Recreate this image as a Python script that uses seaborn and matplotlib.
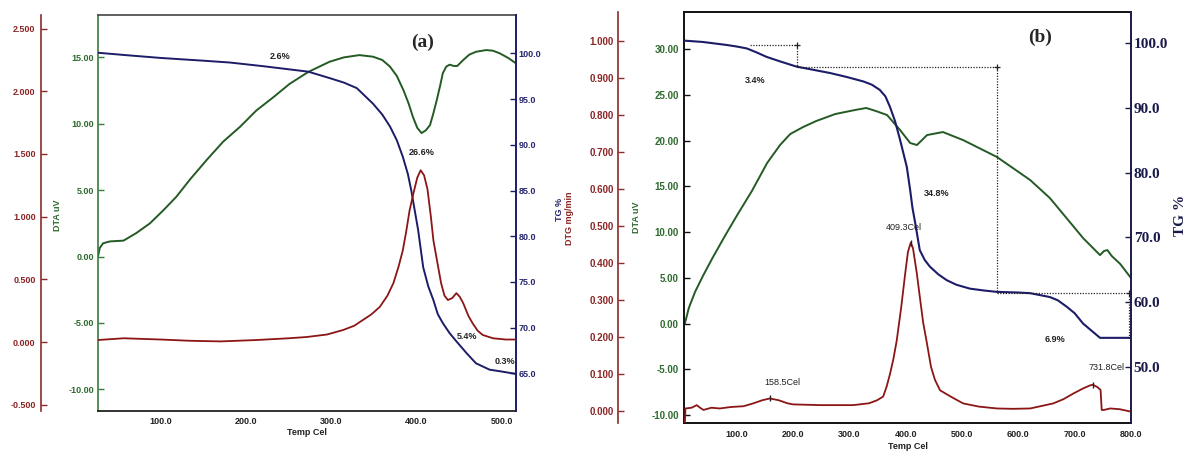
import matplotlib
matplotlib.use("Agg")
import matplotlib.pyplot as plt
from matplotlib.ticker import FormatStrFormatter
import seaborn as sns

# ---------------- Panel (a) data ----------------
temp_a_tg = [26, 60, 100, 150, 181, 220, 251, 273, 298, 315, 330, 349, 360, 369, 377,
             384, 390, 394, 402, 408, 414, 420, 425, 431, 439, 447, 459, 470, 486, 500, 516]
tg_a = [100.07, 99.8, 99.5, 99.2, 99.0, 98.6, 98.25, 98.0, 97.3, 96.8, 96.2, 94.5, 93.3, 92.0, 90.5,
        88.7, 86.8, 85.0, 80.7, 76.6, 74.5, 73.0, 71.5, 70.5, 69.4, 68.5, 67.2, 66.1, 65.4, 65.2, 64.95]

temp_a_dta = [26, 28, 32, 40, 56, 71, 87, 103, 118, 134, 154, 173, 193, 212, 232, 251, 273, 298,
              315, 333, 349, 360, 369, 377, 385, 391, 396, 401, 406, 411, 416, 420, 424, 428, 431,
              435, 439, 444, 448, 455, 462, 470, 482, 490, 498, 508, 517]
dta_a = [0.0, 0.64, 1.0, 1.14, 1.2, 1.77, 2.5, 3.5, 4.5, 5.8, 7.3, 8.65, 9.78, 11.0, 12.0, 13.0, 13.9, 14.67,
         15.0, 15.17, 15.05, 14.8, 14.3, 13.6, 12.5, 11.5, 10.5, 9.7, 9.3, 9.5, 9.9, 10.8, 11.8, 12.9, 13.8,
         14.3, 14.45, 14.35, 14.35, 14.8, 15.2, 15.42, 15.55, 15.5, 15.3, 14.95, 14.55]

temp_a_dtg = [26, 56, 100, 134, 170, 212, 250, 271, 295, 314, 327, 337, 347, 357, 366, 373, 379, 384,
              388, 392, 397, 401, 405, 409, 413, 417, 420, 425, 429, 433, 437, 442, 447, 451, 455, 461,
              466, 472, 478, 490, 505, 517]
dtg_a = [0.016, 0.03, 0.02, 0.01, 0.005, 0.016, 0.03, 0.04, 0.06, 0.096, 0.13, 0.175, 0.22, 0.28, 0.37,
         0.47, 0.6, 0.73, 0.88, 1.05, 1.2, 1.31, 1.37, 1.33, 1.22, 1.0, 0.81, 0.62, 0.47, 0.37, 0.335,
         0.35, 0.39, 0.36, 0.31, 0.21, 0.15, 0.09, 0.056, 0.03, 0.02, 0.02]

loss_labels_a = ["2.6%", "26.6%", "5.4%", "0.3%"]

# ---------------- Panel (b) data ----------------
temp_b_tg = [8, 40, 82, 100, 118, 135, 153, 177, 206, 236, 266, 295, 325, 340, 354, 364, 372, 381,
             390, 396, 402, 408, 412, 417, 425, 434, 443, 458, 473, 490, 514, 540, 562, 600, 621, 656,
             670, 686, 700, 715, 730, 745, 800]
tg_b = [100.4, 100.2, 99.74, 99.5, 99.2, 98.6, 97.9, 97.2, 96.4, 95.9, 95.4, 94.8, 94.1, 93.6, 92.8, 91.8,
        90.2, 88.0, 85.1, 83.0, 80.9, 77.3, 74.6, 72.2, 68.05, 66.5, 65.5, 64.3, 63.4, 62.7, 62.1, 61.8,
        61.6, 61.5, 61.4, 60.8, 60.3, 59.3, 58.3, 56.7, 55.6, 54.5, 54.5]

temp_b_dta = [8, 15, 26, 40, 58, 79, 102, 127, 154, 177, 195, 218, 241, 275, 310, 330, 347, 367,
              390, 408, 420, 438, 466, 502, 562, 621, 656, 687, 715, 745, 752, 758, 766, 781, 800]
dta_b = [0.0, 1.7, 3.45, 5.2, 7.28, 9.57, 11.98, 14.5, 17.56, 19.53, 20.73, 21.5, 22.15, 22.92, 23.36,
         23.58, 23.25, 22.81, 21.17, 19.75, 19.53, 20.62, 20.95, 20.07, 18.22, 15.7, 13.73, 11.43, 9.35,
         7.49, 7.93, 8.04, 7.38, 6.51, 4.98]

temp_b_dtg = [8, 9, 20, 29, 35, 41, 55, 70, 90, 112, 130, 145, 159, 175, 190, 200, 248, 307, 335, 349,
              360, 366, 372, 378, 384, 392, 399, 404, 409, 413, 416, 420, 425, 431, 437, 445, 452, 461,
              480, 502, 530, 562, 590, 621, 662, 680, 698, 715, 727, 732, 740, 746, 748, 752, 763, 780, 798]
dtg_b = [-0.03, 0.008, 0.01, 0.017, 0.01, 0.004, 0.01, 0.008, 0.012, 0.014, 0.022, 0.03, 0.035, 0.03,
         0.022, 0.019, 0.017, 0.017, 0.022, 0.03, 0.04, 0.066, 0.1, 0.14, 0.19, 0.28, 0.37, 0.43, 0.455,
         0.44, 0.41, 0.37, 0.31, 0.24, 0.19, 0.12, 0.085, 0.057, 0.04, 0.0216, 0.013, 0.008, 0.007, 0.008,
         0.0216, 0.033, 0.0486, 0.062, 0.07, 0.072, 0.066, 0.058, 0.004, 0.004, 0.008, 0.006, 0.0]

step_bounds_b = [123, 206.6, 562, 797]
step_levels_b = [99.74, 96.4, 61.5, 54.5]
loss_labels_b = ["3.4%", "34.8%", "6.9%"]
peak_temps_b = [158.5, 409.3, 731.8]
peak_dtg_b = [0.035, 0.455, 0.072]

# ---------------- styling ----------------
sns.set_style("white")
plt.rcParams['font.family'] = ['Liberation Sans', 'DejaVu Sans']

W, H = 1186, 451
GREEN = "#245a24"
GREEN_T = "#2f6a2f"
NAVY = "#1c1c68"
NAVY_T = "#25256e"
RED = "#8c1515"
RED_T = "#8b2525"
SMALL = 6.5

fig = plt.figure(figsize=(W / 100, H / 100), dpi=100)


def px_axes(x0, y0, x1, y1):
    return fig.add_axes([x0 / W, 1 - y1 / H, (x1 - x0) / W, (y1 - y0) / H])


def only_spines(ax, keep):
    for name, sp in ax.spines.items():
        sp.set_visible(name in keep)


def style_y(ax, color_line, color_text, fmt, ticks, size=SMALL, weight='bold', family=None, pad=2.5):
    ax.set_yticks(ticks)
    ax.yaxis.set_major_formatter(FormatStrFormatter(fmt))
    ax.tick_params(axis='y', direction='in', length=4, width=1, color=color_line,
                   labelcolor=color_text, labelsize=size, pad=pad)
    for lab in ax.get_yticklabels():
        lab.set_fontweight(weight)
        if family:
            lab.set_family(family)


def set_ylabel(ax, text, color, x, y, size=SMALL, weight='bold', family=None):
    ax.set_ylabel(text, color=color, fontsize=size, fontweight=weight)
    if family:
        ax.yaxis.label.set_family(family)
    ax.yaxis.label.set_va('center')
    ax.yaxis.label.set_ha('center')
    ax.yaxis.set_label_coords(x, y)


# ---------------- Panel (a) ----------------
axA = px_axes(98, 15, 516, 411)
axA_tg = axA.twinx()
axA_dtg = axA.twinx()

sns.lineplot(x=temp_a_dtg, y=dtg_a, ax=axA_dtg, color=RED, linewidth=1.3)
sns.lineplot(x=temp_a_dta, y=dta_a, ax=axA, color=GREEN, linewidth=1.4)
sns.lineplot(x=temp_a_tg, y=tg_a, ax=axA_tg, color=NAVY, linewidth=1.4)

axA.set_xlim(26, 517)
axA.set_ylim(-11.63, 18.19)
axA_tg.set_ylim(60.88, 104.2)
axA_dtg.set_ylim(-0.55, 2.608)

only_spines(axA, ['left', 'bottom', 'top'])
axA.spines['left'].set_color("#3a7a3a")
axA.spines['bottom'].set_color("#111111")
axA.spines['top'].set_color("#444444")
for s in ['left', 'bottom', 'top']:
    axA.spines[s].set_linewidth(1.2)
only_spines(axA_tg, ['right'])
axA_tg.spines['right'].set_color(NAVY)
axA_tg.spines['right'].set_linewidth(1.4)
only_spines(axA_dtg, ['left'])
axA_dtg.spines['left'].set_position(('axes', -0.136))
axA_dtg.spines['left'].set_color("#8b2a2a")
axA_dtg.spines['left'].set_linewidth(1.2)
axA_dtg.yaxis.set_ticks_position('left')
axA_dtg.yaxis.set_label_position('left')

axA.set_xticks([100, 200, 300, 400, 500])
axA.xaxis.set_major_formatter(FormatStrFormatter('%.1f'))
axA.tick_params(axis='x', direction='in', length=4, width=1, color='#111111',
                labelcolor='#222222', labelsize=SMALL, pad=4)
for lab in axA.get_xticklabels():
    lab.set_fontweight('bold')
style_y(axA, "#3a7a3a", GREEN_T, '%.2f', [-10, -5, 0, 5, 10, 15], pad=3)
style_y(axA_tg, NAVY, NAVY_T, '%.1f', [65, 70, 75, 80, 85, 90, 95, 100], pad=2)
style_y(axA_dtg, "#8b2a2a", RED_T, '%.3f', [-0.5, 0, 0.5, 1.0, 1.5, 2.0, 2.5], pad=4)

axA.set_xlabel("Temp Cel", fontsize=SMALL, fontweight='bold', color='#222222')
axA.xaxis.set_label_coords(0.5, -0.043)
axA.xaxis.label.set_va('top')
set_ylabel(axA, "DTA uV", GREEN_T, -0.0957, 0.495)
set_ylabel(axA_tg, "TG %", NAVY_T, 1.105, 0.508)
axA_dtg.set_ylabel("")

a_pos = [(239.6, 99.7), (406, 89.2), (460, 69.0), (503.7, 66.25)]
for lab, (tx, ty) in zip(loss_labels_a, a_pos):
    axA_tg.text(tx, ty, lab, ha='center', va='center', fontsize=SMALL, fontweight='bold', color='#222222')

fig.text(423 / W, 1 - 42 / H, "(a)", ha='center', va='center', fontsize=14, fontweight='bold',
         family='Liberation Serif')

# ---------------- Panel (b) ----------------
axB = px_axes(684.3, 12, 1131, 423.3)
axB_tg = axB.twinx()
axB_dtg = axB.twinx()

sns.lineplot(x=temp_b_dtg, y=dtg_b, ax=axB_dtg, color=RED, linewidth=1.3)
sns.lineplot(x=temp_b_dta, y=dta_b, ax=axB, color=GREEN, linewidth=1.4)
sns.lineplot(x=temp_b_tg, y=tg_b, ax=axB_tg, color=NAVY, linewidth=1.5)

axB.set_xlim(7, 800)
axB.set_ylim(-10.91, 34.08)
axB_tg.set_ylim(41.3, 104.83)
axB_dtg.set_ylim(-0.032, 1.077)

only_spines(axB, ['left', 'bottom', 'top'])
for s in ['left', 'bottom', 'top']:
    axB.spines[s].set_color("#111111")
    axB.spines[s].set_linewidth(1.4)
only_spines(axB_tg, ['right'])
axB_tg.spines['right'].set_color("#1a1a4a")
axB_tg.spines['right'].set_linewidth(1.4)
only_spines(axB_dtg, ['left'])
axB_dtg.spines['left'].set_position(('axes', -0.148))
axB_dtg.spines['left'].set_color("#8b2a2a")
axB_dtg.spines['left'].set_linewidth(1.2)
axB_dtg.yaxis.set_ticks_position('left')
axB_dtg.yaxis.set_label_position('left')

axB.set_xticks([100, 200, 300, 400, 500, 600, 700, 800])
axB.xaxis.set_major_formatter(FormatStrFormatter('%.1f'))
axB.tick_params(axis='x', direction='in', length=4, width=1, color='#111111',
                labelcolor='#222222', labelsize=SMALL, pad=5)
for lab in axB.get_xticklabels():
    lab.set_fontweight('bold')
style_y(axB, "#111111", GREEN_T, '%.2f', [-10, -5, 0, 5, 10, 15, 20, 25, 30], size=7, pad=4)
style_y(axB_tg, "#1a1a4a", "#1a1a4a", '%.1f', [50, 60, 70, 80, 90, 100], size=11,
        family='Liberation Serif', pad=2)
style_y(axB_dtg, "#8b2a2a", RED_T, '%.3f', [0, 0.1, 0.2, 0.3, 0.4, 0.5, 0.6, 0.7, 0.8, 0.9, 1.0],
        size=7, pad=3)

axB.set_xlabel("Temp Cel", fontsize=SMALL, fontweight='bold', color='#222222')
axB.xaxis.set_label_coords(0.5, -0.045)
axB.xaxis.label.set_va('top')
set_ylabel(axB, "DTA uV", GREEN_T, -0.1066, 0.5)
set_ylabel(axB_dtg, "DTG mg/min", RED_T, -0.256, 0.499)
set_ylabel(axB_tg, "TG %", "#1a1a4a", 1.11, 0.506, size=11, family='Liberation Serif')

# dotted step lines for mass-loss steps
for i in range(len(step_bounds_b) - 1):
    axB_tg.plot([step_bounds_b[i], step_bounds_b[i + 1]], [step_levels_b[i], step_levels_b[i]],
                ls=(0, (1, 1.2)), color='#222222', lw=0.9)
    axB_tg.plot([step_bounds_b[i + 1], step_bounds_b[i + 1]], [step_levels_b[i], step_levels_b[i + 1]],
                ls=(0, (1, 1.2)), color='#222222', lw=0.9)
    axB_tg.plot([step_bounds_b[i + 1]], [step_levels_b[i]], marker='+', color='#222222', ms=4, mew=0.9)

b_pos = [(132.5, 94.3), (455, 76.8), (665, 54.2)]
for lab, (tx, ty) in zip(loss_labels_b, b_pos):
    axB_tg.text(tx, ty, lab, ha='center', va='center', fontsize=SMALL, fontweight='bold', color='#222222')

peak_offsets = [(9, 8), (-5, 8), (10, 9)]
for t, v, off in zip(peak_temps_b, peak_dtg_b, peak_offsets):
    axB_dtg.plot([t], [v], marker='|', color='#222222', ms=4)
    axB_dtg.annotate(f"{t}Cel", xy=(t, v), xytext=off, textcoords='offset points',
                     ha='center', va='bottom', fontsize=SMALL, color='#222222')

fig.text(1040 / W, 1 - 37 / H, "(b)", ha='center', va='center', fontsize=14, fontweight='bold',
         family='Liberation Serif')

fig.savefig("out.png", dpi=100, facecolor='white')
